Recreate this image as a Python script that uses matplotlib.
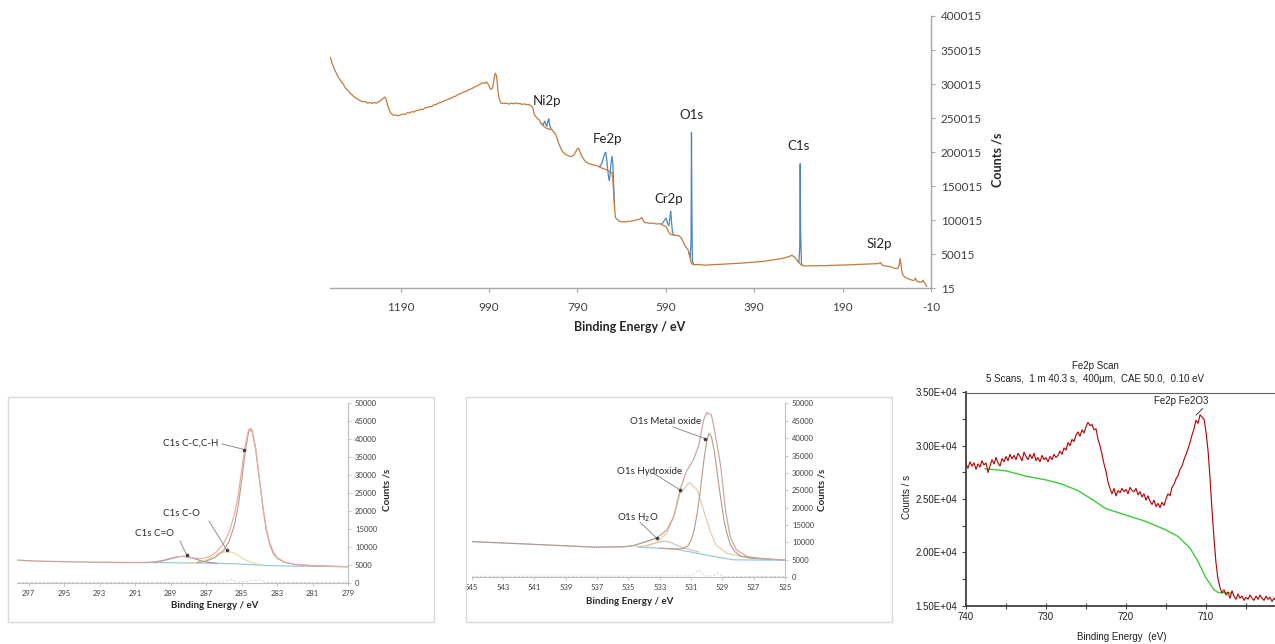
import matplotlib
matplotlib.use("Agg")
import matplotlib.pyplot as plt
from matplotlib.patches import Rectangle

W, H = 1275, 644
fig = plt.figure(figsize=(W / 100, H / 100), dpi=100)
fig.patch.set_facecolor("white")

SANS = ["Lato", "DejaVu Sans"]
ARIAL = ["Liberation Sans", "DejaVu Sans"]

# ---------------- Survey data ----------------
survey_ev = [1349, 1345, 1340, 1335, 1330, 1325, 1320, 1315, 1310, 1305, 1300, 1295, 1290, 1285, 1280,
             1275, 1270, 1265, 1260, 1255, 1250, 1245, 1240, 1235, 1230, 1226, 1223, 1220, 1216, 1212,
             1208, 1204, 1200, 1195, 1190, 1185, 1180, 1175, 1170, 1165, 1160, 1155, 1150, 1145, 1140,
             1135, 1130, 1125, 1120, 1115, 1110, 1105, 1100, 1095, 1090, 1085, 1080, 1075, 1070, 1065,
             1060, 1055, 1050, 1045, 1040, 1035, 1030, 1025, 1020, 1015, 1010, 1005, 1000, 996, 992,
             988, 985, 982, 979, 976, 973, 970, 967, 963, 958, 950, 945, 940, 935, 930, 925, 920, 915,
             910, 905, 900, 895, 891, 888, 884, 880, 876, 872, 868, 864, 860, 856, 852, 848, 844, 840,
             836, 832, 828, 824, 820, 816, 812, 808, 804, 800, 796, 792, 789, 786, 783, 780, 776, 772,
             768, 764, 760, 756, 752, 748, 744, 740, 736, 732, 728, 724, 720, 716, 712, 710, 708, 706,
             704, 700, 696, 692, 688, 684, 680, 676, 672, 668, 664, 660, 656, 652, 648, 645, 642, 639,
             636, 630, 625, 620, 615, 610, 605, 600, 595, 590, 586, 582, 578, 574, 570, 566, 562, 558,
             555, 552, 548, 544, 540, 536, 533, 530, 525, 520, 510, 500, 490, 480, 470, 460, 450, 440,
             430, 420, 410, 400, 390, 380, 370, 360, 350, 340, 330, 320, 310, 305, 300, 296, 292, 288,
             284, 280, 275, 270, 260, 250, 240, 230, 220, 210, 200, 190, 180, 170, 160, 150, 140, 130,
             120, 110, 106, 104, 102, 100, 96, 90, 80, 75, 70, 65, 62, 60, 58, 56, 54, 50, 45, 40, 35,
             30, 27, 25, 23, 20, 15, 10, 8, 6, 3, 0]
survey_k = [339, 330, 322, 315, 309, 304, 300, 294, 291, 287, 284, 281, 279, 277, 275,
            274, 274.5, 272, 273, 271.5, 273, 272, 274, 276, 279, 281, 278, 270, 262, 257,
            255, 254, 254.5, 253.5, 255, 256, 255.5, 258, 257.5, 259.5, 259, 261, 261.5, 263, 262.5,
            265, 265.5, 267, 267, 269.5, 270, 272, 273, 274.5, 276, 277, 278.5, 279.5, 281.5, 282.5,
            285, 286, 287.5, 289, 290, 292, 293, 295, 296.5, 298, 300, 302, 301, 303, 300,
            294, 292, 295, 307, 316, 312, 290, 278, 272, 271.5, 272, 270.5, 272, 271, 272.5, 271, 271.5, 270,
            271, 269.5, 270, 268, 265, 256, 252, 249, 247, 242, 239, 237, 235, 234.5, 233, 233.5, 230, 227,
            220, 212, 206, 201, 198, 196.5, 195, 194, 193.5, 195, 198, 203, 206, 204, 198, 194, 190, 186,
            184.5, 183, 182.5, 181.5, 181, 180.5, 179.5, 178.5, 177, 176, 175, 174, 172.5, 171, 170, 160, 140, 118,
            104, 101, 99, 98, 97.5, 98, 97.5, 98.5, 98, 99, 99, 100, 100.5, 101, 102, 104, 101, 97,
            96.5, 96, 95.5, 96, 95, 94.5, 95, 94, 92, 91, 86, 81, 79, 78.5, 78, 78, 77.5, 76,
            74, 70, 64, 60, 57, 48, 38, 35.5, 34.5, 35, 34.5, 34, 34.5, 34.8, 35, 35.5, 35.8, 36.3,
            36.5, 37, 37.5, 38, 38.5, 39, 39.5, 40.5, 41.5, 42.5, 43.5, 45, 47, 48.5, 46.5, 44, 40, 37,
            34.5, 33.5, 33, 33, 33.2, 33, 33.5, 33.3, 33.6, 33.8, 34, 34.2, 34.5, 34.6, 35, 35.2, 35.5, 35.8,
            36, 36.2, 37.5, 38, 35.5, 34, 33, 32.5, 31.5, 30, 29, 29.5, 34, 44, 36, 25, 20, 17, 15, 13.5, 12.5,
            11.5, 12.5, 15, 11, 10, 9, 9.5, 12, 9, 7, 3]

# blue (un-subtracted) peak segments
ni_ev = [872, 868, 866, 864, 862, 859, 857, 855, 853, 850]
ni_k = [242, 240, 243, 245.5, 241, 238, 246, 249, 240, 234]
fe_ev = [740, 735, 731, 728, 726, 724, 722, 720, 718, 716, 714, 712, 710, 708, 706]
fe_k = [178.5, 183, 192, 198.5, 200, 190, 178, 165, 158, 168, 185, 194, 185, 150, 118]
cr_ev = [600, 596, 592, 589, 586, 583, 580, 579, 577, 575, 572]
cr_k = [94, 97, 101, 103, 95, 92, 108, 113, 96, 82, 78]
o_ev = [538, 535, 533, 532, 531, 530, 527]
o_k = [52, 45, 70, 229, 110, 40, 35]
c_ev = [292, 289, 287, 286, 285, 283, 280]
c_k = [40, 38, 60, 183, 80, 35, 33.5]

survey_labels = ["Ni2p", "Fe2p", "O1s", "Cr2p", "C1s", "Si2p"]
survey_label_ev = [858, 721, 532, 584, 290, 106]
survey_label_k = [275, 220, 255, 131.5, 209.6, 64.8]
survey_xticks = [1190, 990, 790, 590, 390, 190, -10]
survey_yticks = [15, 50015, 100015, 150015, 200015, 250015, 300015, 350015, 400015]

# ---------------- C1s data ----------------
c1s_ev = [297.6, 297, 296, 295, 294, 293, 292, 291, 290, 289.5, 289, 288.6, 288.3, 288, 287.6, 287.2,
          286.8, 286.4, 286, 285.7, 285.4, 285.2, 285, 284.8, 284.6, 284.5, 284.4, 284.2, 284, 283.8,
          283.6, 283.4, 283.2, 283, 282.6, 282, 281, 280, 279]
c1s_env = [6300, 6100, 5950, 5850, 5750, 5700, 5650, 5600, 5650, 6000, 6700, 7200, 7350, 7200, 6800, 6700,
           7300, 8600, 11000, 14000, 19000, 24000, 31000, 38000, 42500, 43000, 42500, 37500, 29500, 21500,
           15000, 11000, 8500, 7000, 5800, 5000, 4700, 4550, 4450]
cc_ev = [287.5, 287, 286.5, 286, 285.7, 285.4, 285.2, 285.0, 284.8, 284.6, 284.5, 284.4, 284.2, 284.0,
         283.8, 283.6, 283.4, 283.2, 283.0, 282.6, 282.0, 281.0, 280.0, 279.0]
cc_val = [5600, 6000, 7000, 9000, 11500, 16000, 21000, 28000, 36000, 42000, 42500, 42000, 37000, 29000,
          21000, 14500, 10500, 8000, 6800, 5700, 5100, 4800, 4600, 4450]
co_ev = [288, 287.5, 287, 286.6, 286.2, 285.8, 285.5, 285.2, 284.9, 284.6, 284.2, 283.8]
co_val = [5400, 5700, 6300, 7300, 8300, 8600, 8400, 7700, 6700, 5900, 5300, 5000]
c_o2_ev = [290.5, 290, 289.5, 289, 288.6, 288.3, 288, 287.6, 287.2, 286.8, 286.4]
c_o2_val = [5600, 5700, 6100, 6700, 7200, 7350, 7150, 6600, 6000, 5600, 5400]
c1s_bg_ev = [290.5, 289, 287, 285.5, 284.5, 283.5, 282, 281, 279]
c1s_bg_val = [5600, 5550, 5450, 5300, 5050, 4750, 4600, 4550, 4450]
c1s_res_ev = [297.6, 290, 286, 285.6, 285.2, 284.0, 283.6, 279]
c1s_res_val = [100, 150, 200, 900, 100, 800, 100, 100]

# ---------------- O1s data ----------------
o1s_ev = [545, 543, 541.5, 539, 537.2, 535.3, 534.7, 533.8, 533.2, 532.55, 532.1, 531.7, 531.3, 530.85,
          530.5, 530.2, 530.0, 529.7, 529.5, 529.1, 528.8, 528.5, 528.1, 527.4, 526.6, 525]
o1s_env = [10200, 9800, 9500, 9000, 8600, 8700, 9000, 10300, 11200, 13500, 17400, 25100, 30400, 33700,
           38000, 45200, 47350, 46700, 42400, 31800, 19300, 11600, 7800, 5900, 5400, 4900]
mo_ev = [533, 532, 531.5, 531.2, 531, 530.8, 530.6, 530.4, 530.2, 530.0, 529.85, 529.7, 529.5, 529.3,
         529.1, 528.9, 528.7, 528.5, 528.2, 527.8, 527.2, 526, 525]
mo_val = [8300, 8100, 8200, 9000, 10500, 13500, 18500, 25000, 33000, 39000, 41400, 40500, 36000, 29000,
          22500, 16500, 12500, 9500, 7300, 6000, 5400, 5100, 4900]
hy_ev = [533.8, 533.2, 532.55, 532.1, 531.7, 531.1, 530.6, 530.2, 529.8, 529.4, 528.7, 527.7, 526.6]
hy_val = [8900, 10000, 12600, 17400, 24100, 27200, 25100, 19300, 13500, 9200, 6800, 5900, 5400]
h2o_ev = [534.5, 534, 533.5, 533, 532.7, 532.3, 532, 531.5, 531, 530.5]
h2o_val = [8700, 8900, 9500, 10100, 10400, 10000, 9300, 8500, 7800, 7200]
o1s_bg_ev = [534.3, 533, 532, 531, 530, 529, 528.3, 527, 525]
o1s_bg_val = [8600, 8300, 8000, 7200, 6300, 5500, 4950, 4900, 4850]
o1s_res_ev = [545, 535, 531, 530.5, 530.1, 529.6, 529.3, 529.0, 525]
o1s_res_val = [200, 250, 300, 2000, 300, 300, 1250, 200, 150]

# ---------------- Fe2p data ----------------
fe2p_ev = [740.00, 739.75, 739.50, 739.25, 739.00, 738.75, 738.50, 738.25, 738.00, 737.75, 737.50, 737.25,
           737.00, 736.75, 736.50, 736.25, 736.00, 735.75, 735.50, 735.25, 735.00, 734.75, 734.50, 734.25,
           734.00, 733.75, 733.50, 733.25, 733.00, 732.75, 732.50, 732.25, 732.00, 731.75, 731.50, 731.25,
           731.00, 730.75, 730.50, 730.25, 730.00, 729.75, 729.50, 729.25, 729.00, 728.75, 728.50, 728.25,
           728.00, 727.75, 727.50, 727.25, 727.00, 726.75, 726.50, 726.25, 726.00, 725.75, 725.50, 725.25,
           725.00, 724.75, 724.50, 724.25, 724.00, 723.75, 723.50, 723.25, 723.00, 722.75, 722.50, 722.25,
           722.00, 721.75, 721.50, 721.25, 721.00, 720.75, 720.50, 720.25, 720.00, 719.75, 719.50, 719.25,
           719.00, 718.75, 718.50, 718.25, 718.00, 717.75, 717.50, 717.25, 717.00, 716.75, 716.50, 716.25,
           716.00, 715.75, 715.50, 715.25, 715.00, 714.75, 714.50, 714.25, 714.00, 713.75, 713.50, 713.25,
           713.00, 712.75, 712.50, 712.25, 712.00, 711.75, 711.50, 711.25, 711.00, 710.75, 710.50, 710.25,
           710.00, 709.75, 709.50, 709.25, 709.00, 708.75, 708.50, 708.25, 708.00, 707.75, 707.50, 707.25,
           707.00, 706.75, 706.50, 706.25, 706.00, 705.75, 705.50, 705.25, 705.00, 704.75, 704.50, 704.25,
           704.00, 703.75, 703.50, 703.25, 703.00, 702.75, 702.50, 702.25, 702.00, 701.75, 701.50, 701.25,
           701.00, 700.75]
fe2p_cps = [28300, 27900, 28500, 28100, 28400, 27800, 28300, 28000, 28600, 28200, 28400, 27500,
            28100, 28700, 28300, 28900, 28400, 28100, 28800, 28500, 29000, 28600, 29200, 28800,
            29100, 28700, 29300, 29000, 28600, 29400, 29000, 28700, 29200, 28800, 29300, 28600,
            28900, 28500, 29100, 28700, 28900, 28500, 29000, 28700, 29200, 28900, 29100, 29500,
            29200, 29800, 29600, 30300, 30000, 30600, 30400, 31000, 31300, 30900, 31500, 31200,
            31800, 32200, 31900, 32000, 31500, 31600, 30600, 30000, 29200, 28300, 27600, 26600,
            26000, 25500, 26000, 25300, 25800, 25600, 26000, 25700, 25900, 25500, 26100, 25800,
            25700, 26000, 25400, 25700, 25200, 25500, 24900, 25300, 24800, 24500, 24900, 24300,
            24600, 24200, 24700, 24400, 25000, 25500, 25300, 26100, 26400, 26900, 27200, 27800,
            28100, 28700, 29200, 29700, 30300, 31000, 31600, 32400, 32100, 32900, 32700, 32500,
            31300, 29600, 27000, 24000, 21300, 19000, 17500, 16700, 16200, 16500, 16000, 16300,
            15700, 16400, 15900, 15600, 16100, 15700, 15900, 15500, 15800, 15600, 16000, 15700,
            15500, 15900, 15600, 16000, 15700, 15500, 15900, 15600, 15800, 15400, 15700, 15500,
            15800, 15600]
fe2p_bg_ev = [737.6, 735, 732.5, 730, 728, 726, 724, 722.5, 720, 717.5, 715, 713.5, 712, 711, 710, 709,
              708.5, 707.5, 706.8]
fe2p_bg_cps = [27850, 27650, 27150, 26800, 26400, 25800, 24850, 24100, 23500, 22900, 22100, 21500, 20400,
               19150, 17600, 16500, 16250, 16200, 16200]


def ax_px(l, t, r, b):
    return fig.add_axes([l / W, 1 - b / H, (r - l) / W, (b - t) / H])


def fx(x):
    return x / W


def fy(y):
    return 1 - y / H


GRAY = "#A6A6A6"
TXT = "#404040"

# ================= Survey =================
ax = ax_px(330, 16, 931, 288.3)
blue = "#4A86C0"
orange = "#C47A3C"
for ev, k in [(ni_ev, ni_k), (fe_ev, fe_k), (cr_ev, cr_k), (o_ev, o_k), (c_ev, c_k)]:
    ax.plot(ev, [v * 1000 for v in k], color=blue, lw=0.9)
ax.plot(survey_ev, [v * 1000 for v in survey_k], color=orange, lw=0.9)
ax.set_xlim(1350, -10)
ax.set_ylim(15, 400015)
for s in ["top", "left"]:
    ax.spines[s].set_visible(False)
for s in ["bottom", "right"]:
    ax.spines[s].set_color(GRAY)
    ax.spines[s].set_linewidth(1.0)
ax.yaxis.tick_right()
ax.set_xticks(survey_xticks)
ax.set_xticklabels([str(t) for t in survey_xticks])
ax.set_yticks(survey_yticks)
ax.set_yticklabels([str(t) for t in survey_yticks])
ax.tick_params(axis="both", colors=GRAY, labelcolor=TXT, labelsize=8.5, length=3, width=0.8)
ax.tick_params(axis="x", pad=7)
ax.tick_params(axis="y", pad=4)
for lab in ax.get_xticklabels() + ax.get_yticklabels():
    lab.set_family(SANS)
for t, e, k in zip(survey_labels, survey_label_ev, survey_label_k):
    ax.text(e, k * 1000, t, ha="center", va="center", fontsize=9.5, color="#262626", family=SANS)
fig.text(fx(630), fy(327), "Binding Energy / eV", ha="center", va="center", fontsize=9,
         fontweight="bold", color="#262626", family=SANS)
fig.text(fx(998), fy(160), "Counts /s", ha="center", va="center", rotation=90, fontsize=9,
         fontweight="bold", color="#262626", family=SANS)

# ================= panel borders =================
for (l, t, r, b) in [(8, 397, 434, 622), (466, 397, 892, 622)]:
    fig.add_artist(Rectangle((fx(l), fy(b)), (r - l) / W, (b - t) / H, transform=fig.transFigure,
                             fill=False, edgecolor="#D9D9D9", lw=1.0))


def small_panel(axp, xlim, xticks, ylab_x, xlab_xy):
    axp.set_xlim(*xlim)
    axp.set_ylim(0, 50000)
    for s in ["top", "left"]:
        axp.spines[s].set_visible(False)
    for s in ["bottom", "right"]:
        axp.spines[s].set_color("#BFBFBF")
        axp.spines[s].set_linewidth(0.8)
    axp.yaxis.tick_right()
    axp.set_xticks(xticks)
    axp.set_xticklabels([str(t) for t in xticks])
    yt = list(range(0, 50001, 5000))
    axp.set_yticks(yt)
    axp.set_yticklabels([str(t) for t in yt])
    axp.tick_params(axis="both", colors="#BFBFBF", labelcolor=TXT, labelsize=5.5, length=2, width=0.6)
    axp.tick_params(axis="x", pad=3)
    axp.tick_params(axis="y", pad=3)
    for lab in axp.get_xticklabels() + axp.get_yticklabels():
        lab.set_family(SANS)
    fig.text(fx(ylab_x), fy(490), "Counts /s", ha="center", va="center", rotation=90, fontsize=7,
             fontweight="bold", color="#262626", family=SANS)
    fig.text(fx(xlab_xy[0]), fy(xlab_xy[1]), "Binding Energy / eV", ha="center", va="center",
             fontsize=7, fontweight="bold", color="#262626", family=SANS)


def callout(axp, text, txy, pxy, dxy):
    fig.text(fx(txy[0]), fy(txy[1]), text, ha="left", va="center", fontsize=7, color="#262626",
             family=SANS)
    inv = axp.transData.inverted()
    x0, y0 = inv.transform((pxy[0], H - pxy[1]))
    axp.plot([x0, dxy[0]], [y0, dxy[1]], color="#7F7F7F", lw=0.6, clip_on=False)
    axp.plot([dxy[0]], [dxy[1]], "o", color="#404040", ms=1.6, clip_on=False)


# ================= C1s =================
a1 = ax_px(17, 403, 348, 582.7)
a1.plot(c1s_res_ev, c1s_res_val, color="#D0D0D0", lw=0.6, ls=(0, (3, 2)))
a1.plot(c1s_bg_ev, c1s_bg_val, color="#8CC7D9", lw=0.8)
a1.plot(c_o2_ev, c_o2_val, color="#9C8FB0", lw=0.8)
a1.plot(co_ev, co_val, color="#E3DCA0", lw=0.8)
a1.plot(cc_ev, cc_val, color="#B79A86", lw=0.8)
a1.plot(c1s_ev, c1s_env, color="#E6AFA8", lw=0.9)
a1.plot(c1s_ev[:12], c1s_env[:12], color="#9A9A9A", lw=0.7, ls=(0, (1, 1)))
small_panel(a1, (297.65, 279), list(range(297, 278, -2)), 387, (215, 606))
fig.canvas.draw()
callout(a1, "C1s C-C,C-H", (163, 443), (222, 444), (284.84, 37060))
callout(a1, "C1s C-O", (163, 514), (209, 521), (285.83, 9130))
callout(a1, "C1s C=O", (135, 534), (180, 541), (288.09, 7740))

# ================= O1s =================
a2 = ax_px(471.7, 403.5, 785, 577)
a2.plot(o1s_res_ev, o1s_res_val, color="#D0D0D0", lw=0.6, ls=(0, (3, 2)))
a2.plot(o1s_bg_ev, o1s_bg_val, color="#8CC7D9", lw=0.8)
a2.plot(h2o_ev, h2o_val, color="#D9B8A8", lw=0.8)
a2.plot(hy_ev, hy_val, color="#E3C8A8", lw=0.8)
a2.plot(mo_ev, mo_val, color="#B79A86", lw=0.8)
a2.plot(o1s_ev, o1s_env, color="#C9A9A0", lw=0.9)
a2.plot(o1s_ev[:9], o1s_env[:9], color="#8A8A8A", lw=0.7, ls=(0, (1, 1)))
small_panel(a2, (545, 525), list(range(545, 524, -2)), 822, (630, 601))
fig.canvas.draw()
callout(a2, "O1s Metal oxide", (630, 422), (673, 427), (530.1, 39900))
callout(a2, "O1s Hydroxide", (617, 471), (653, 473), (531.7, 25100))
callout(a2, "O1s H$_2$O", (617, 518), (640, 522), (533.2, 11200))

# ================= Fe2p =================
a3 = ax_px(966, 392.5, 1286, 605.7)
a3.plot(fe2p_bg_ev, fe2p_bg_cps, color="#3CCB3C", lw=1.0)
a3.plot(fe2p_ev, fe2p_cps, color="#B00000", lw=0.8)
a3.set_xlim(740, 700)
a3.set_ylim(15000, 35000)
a3.spines["right"].set_visible(False)
for s in ["left", "bottom"]:
    a3.spines[s].set_color("#404040")
    a3.spines[s].set_linewidth(1.3)
a3.spines["top"].set_color("#606060")
a3.spines["top"].set_linewidth(0.8)
a3.set_xticks([740, 730, 720, 710])
a3.set_xticks([735, 725, 715, 705], minor=True)
a3.set_yticks([15000, 20000, 25000, 30000, 35000])
a3.set_yticks([17500, 22500, 27500, 32500], minor=True)
a3.set_yticklabels(["1.50E+04", "2.00E+04", "2.50E+04", "3.00E+04", "3.50E+04"])
a3.tick_params(axis="both", which="both", colors="#404040", labelcolor="#202020", labelsize=7,
               length=3, width=0.8)
a3.tick_params(axis="x", which="both", direction="inout", length=5, pad=2)
for lab in a3.get_xticklabels() + a3.get_yticklabels():
    lab.set_family(ARIAL)
a3.annotate("Fe2p Fe2O3", xy=(711.25, 32870), xytext=(fx(1154), fy(400.7)), textcoords="figure fraction",
            ha="left", va="center", fontsize=7, family=ARIAL, color="#202020",
            arrowprops=dict(arrowstyle="-", color="#202020", lw=0.6, shrinkA=0, shrinkB=0,
                            relpos=(1.0, 0.3)))
fig.text(fx(1095), fy(366), "Fe2p Scan", ha="center", va="center", fontsize=7, family=ARIAL,
         color="#202020")
fig.text(fx(1095), fy(379), "5 Scans,  1 m 40.3 s,  400\u00b5m,  CAE 50.0,  0.10 eV", ha="center",
         va="center", fontsize=7, family=ARIAL, color="#202020")
fig.text(fx(907), fy(497), "Counts / s", ha="center", va="center", rotation=90, fontsize=7,
         family=ARIAL, color="#202020")
fig.text(fx(1122), fy(637), "Binding Energy  (eV)", ha="center", va="center", fontsize=7,
         family=ARIAL, color="#202020")

fig.savefig("out.png", dpi=100, facecolor="white")
